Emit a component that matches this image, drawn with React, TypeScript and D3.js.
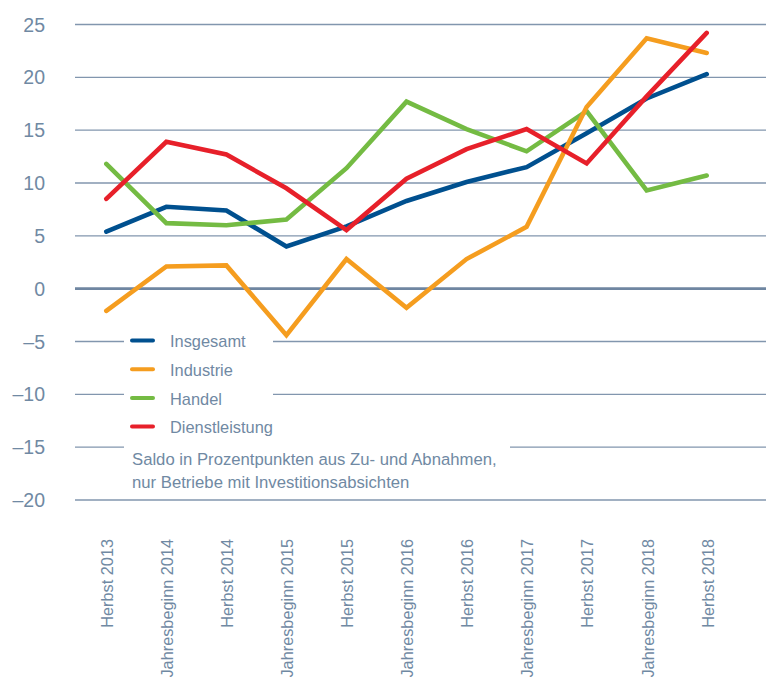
import React from "react";
import * as d3 from "d3";

const categories = [
  "Herbst 2013", "Jahresbeginn 2014", "Herbst 2014", "Jahresbeginn 2015", "Herbst 2015",
  "Jahresbeginn 2016", "Herbst 2016", "Jahresbeginn 2017", "Herbst 2017", "Jahresbeginn 2018", "Herbst 2018",
];
const insgesamt = [5.4, 7.75, 7.4, 4.0, 5.9, 8.3, 10.1, 11.5, 14.7, 18.0, 20.3];
const industrie = [-2.1, 2.1, 2.2, -4.4, 2.8, -1.8, 2.8, 5.85, 17.2, 23.7, 22.3];
const handel = [11.8, 6.2, 6.0, 6.55, 11.4, 17.7, 15.1, 13.0, 16.8, 9.3, 10.7];
const dienstleistung = [8.5, 13.9, 12.7, 9.5, 5.55, 10.4, 13.2, 15.1, 11.85, 18.2, 24.2];
const yTicks = [25, 20, 15, 10, 5, 0, -5, -10, -15, -20];
const seriesNames = ["Insgesamt", "Industrie", "Handel", "Dienstleistung"];
const noteLines = [
  "Saldo in Prozentpunkten aus Zu- und Abnahmen,",
  "nur Betriebe mit Investitionsabsichten",
];

const COLORS: Record<string, string> = {
  Insgesamt: "#00508f",
  Industrie: "#f59d1f",
  Handel: "#74bb43",
  Dienstleistung: "#e7202a",
};
const TEXT = "#7089a3";
const GRID = "#8296ae";
const FONT = "'Liberation Sans', Arial, sans-serif";

export default function App() {
  const W = 771, H = 677;
  const x = d3.scalePoint<string>().domain(categories).range([106.3, 706.7]);
  const y = d3.scaleLinear().domain([-20, 25]).range([500, 24.5]);
  const gridX0 = 75, gridX1 = 766;

  const seriesData: Record<string, number[]> = {
    Insgesamt: insgesamt,
    Industrie: industrie,
    Handel: handel,
    Dienstleistung: dienstleistung,
  };
  const drawOrder = ["Insgesamt", "Handel", "Industrie", "Dienstleistung"];

  const line = d3
    .line<number>()
    .x((_, i) => x(categories[i]) as number)
    .y((d) => y(d));

  const legendX = 132;
  const legendY0 = 340.5;
  const legendStep = 28.7;

  return (
    <svg width={W} height={H} style={{ position: "absolute", left: 0, top: 0, background: "#fff" }} fontFamily={FONT}>
      {yTicks.map((t) => (
        <line
          key={"g" + t}
          x1={gridX0}
          x2={gridX1}
          y1={y(t)}
          y2={y(t)}
          stroke={t === 0 ? "#6f86a1" : GRID}
          strokeWidth={t === 0 ? 2.6 : 1.4}
        />
      ))}
      {yTicks.map((t) => (
        <text key={"yl" + t} x={45} y={y(t) + 7} textAnchor="end" fontSize={19.5} fill={TEXT}>
          {t < 0 ? "\u2013" + Math.abs(t) : String(t)}
        </text>
      ))}
      <rect x={124} y={330} width={149} height={112} fill="#fff" />
      <rect x={124} y={440} width={386} height={55} fill="#fff" />
      {drawOrder.map((s) => (
        <path
          key={s}
          d={line(seriesData[s]) as string}
          fill="none"
          stroke={COLORS[s]}
          strokeWidth={4.6}
          strokeLinecap="round"
          strokeLinejoin="miter"
        />
      ))}
      {seriesNames.map((s, i) => (
        <g key={"lg" + s}>
          <line
            x1={legendX}
            x2={legendX + 21}
            y1={legendY0 + i * legendStep}
            y2={legendY0 + i * legendStep}
            stroke={COLORS[s]}
            strokeWidth={4}
            strokeLinecap="round"
          />
          <text x={170} y={legendY0 + i * legendStep + 6.8} fontSize={16.4} fill={TEXT}>
            {s}
          </text>
        </g>
      ))}
      {noteLines.map((l, i) => (
        <text key={"n" + i} x={132} y={465 + i * 23.3} fontSize={16.7} fill={TEXT}>
          {l}
        </text>
      ))}
      {categories.map((c) => (
        <text
          key={"xl" + c}
          transform={`translate(${x(c)},539) rotate(-90)`}
          textAnchor="end"
          dy="0.42em"
          fontSize={16.3}
          fill={TEXT}
        >
          {c}
        </text>
      ))}
    </svg>
  );
}
